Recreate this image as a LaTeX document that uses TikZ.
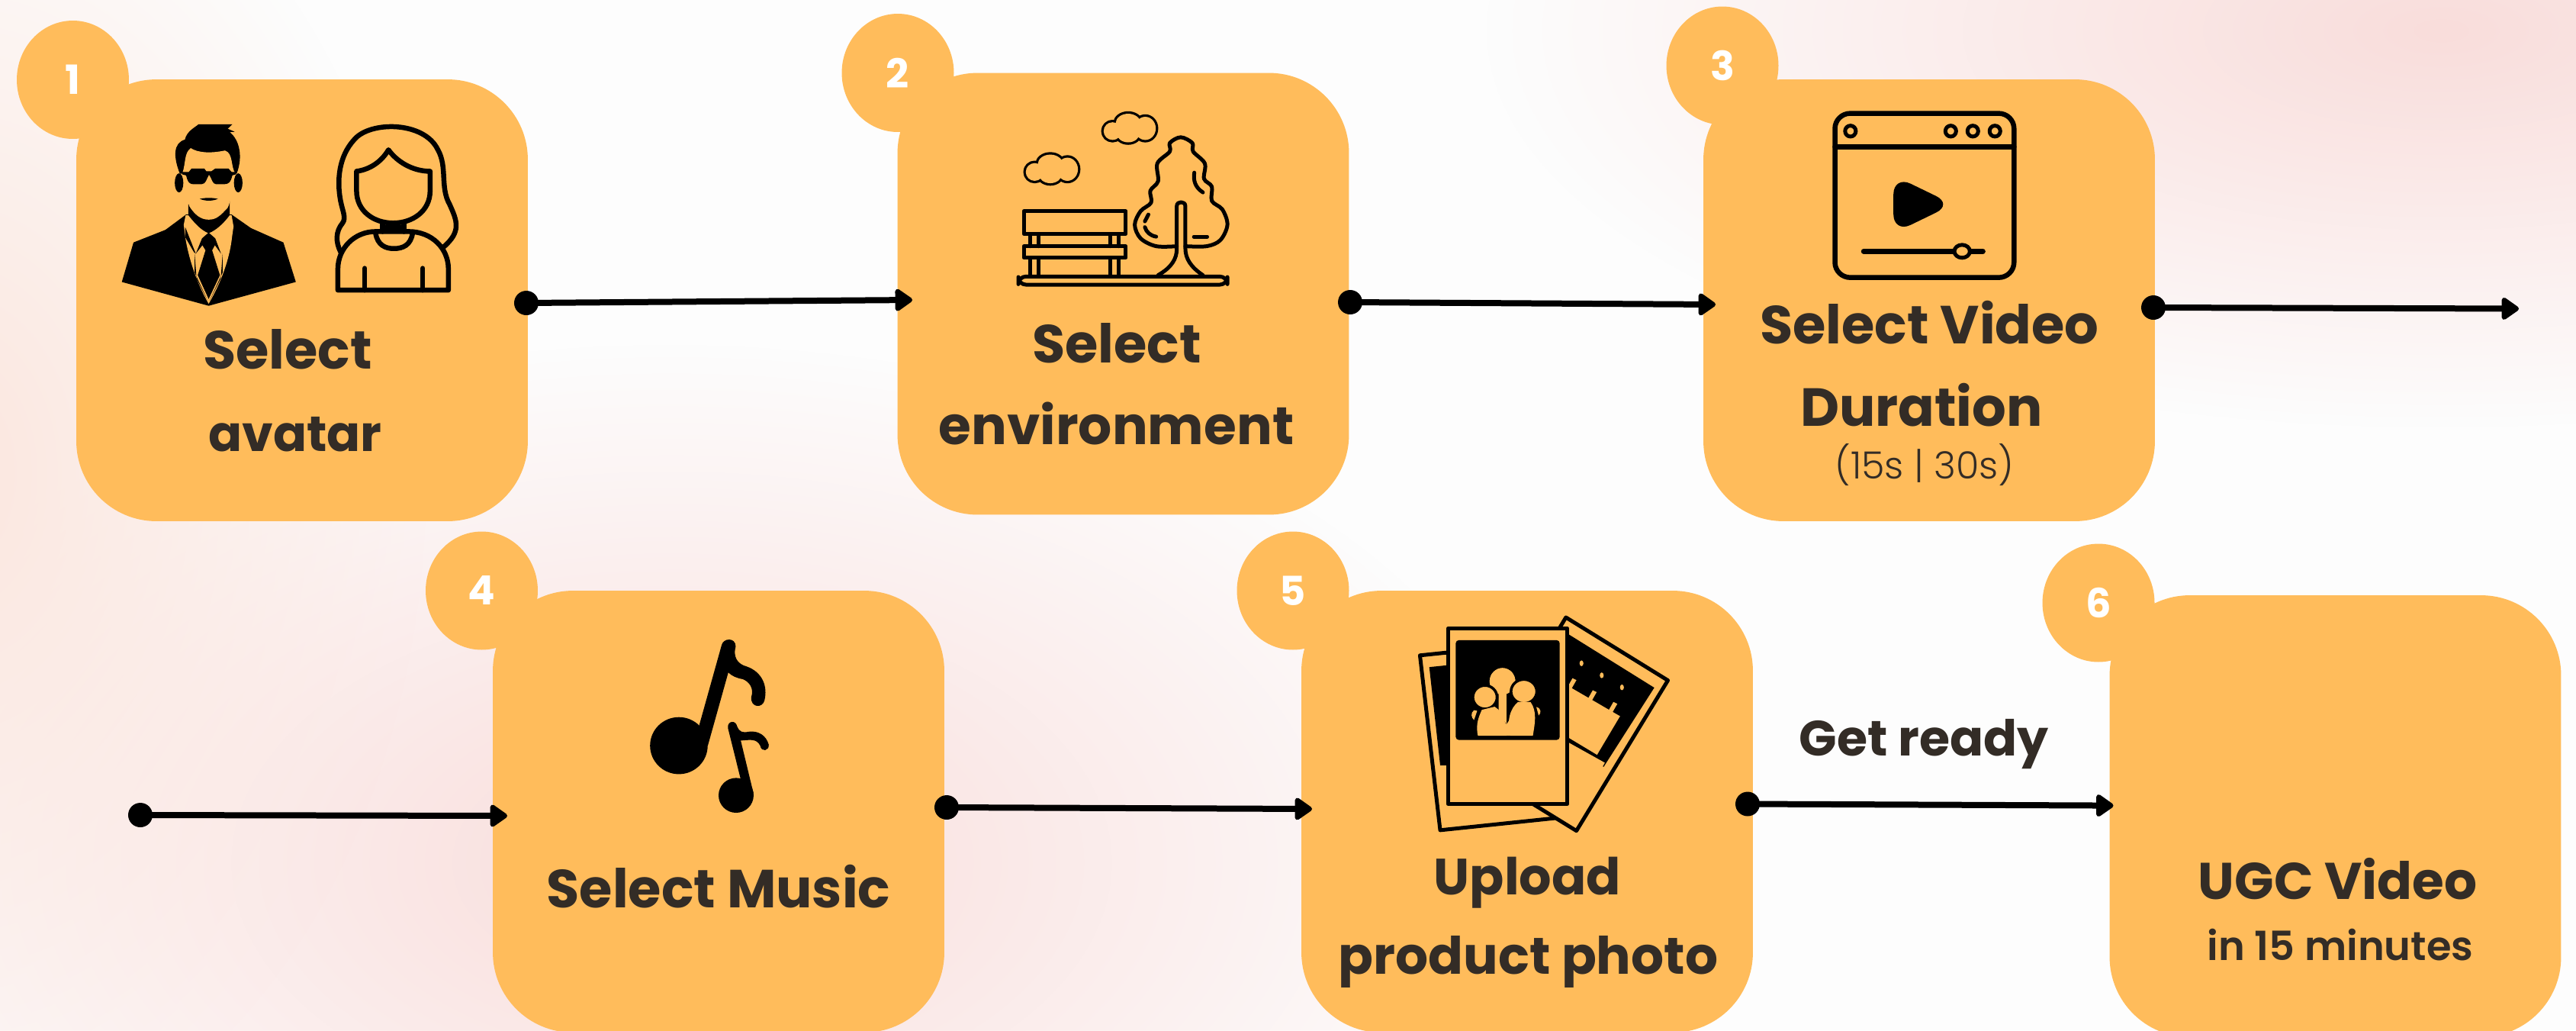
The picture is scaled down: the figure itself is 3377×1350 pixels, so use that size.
\documentclass[tikz,border=0pt]{standalone}
\usepackage{fontspec}
\setmainfont{Poppins}
\newfontfamily\semif{Poppins SemiBold}
\newfontfamily\lightf{Poppins Light}
\usetikzlibrary{shapes.geometric,arrows.meta,fadings}
\definecolor{boxor}{HTML}{FFBC5B}
\definecolor{inkt}{HTML}{332C26}
\definecolor{bgw}{HTML}{FDFDFD}
\definecolor{pinka}{HTML}{F9DDDB}
\definecolor{peach}{HTML}{FBE6DE}
\tikzfading[name=softblob, inner color=transparent!0, outer color=transparent!100]
\tikzset{
  card/.style={fill=boxor,draw=none,rounded corners=2.1cm,minimum width=11.84cm,minimum height=11.58cm,inner sep=0pt},
  badge/.style={ellipse,fill=boxor,draw=none,minimum width=2.94cm,minimum height=3.1cm,inner sep=0pt,text=white,font=\bfseries\fontsize{30}{30}\selectfont},
  title/.style={anchor=base,text=inkt,inner sep=0pt,font=\bfseries\fontsize{#1}{#1}\selectfont},
  dotnode/.style={circle,fill=black,minimum size=.64cm,inner sep=0pt},
  conn/.style={draw=black,line width=.16cm,-{Triangle[length=.5cm,width=.66cm,round]}},
  ic/.style={draw=black,line width=.13cm,line join=round,line cap=round},
  icthin/.style={draw=black,line width=.1cm,line join=round,line cap=round},
  blob/.style={path fading=softblob},
}
\begin{document}
\begin{tikzpicture}[x=.02cm,y=-.02cm]
\useasboundingbox (0,0) rectangle (3377,1350);
% background
\fill[bgw] (0,0) rectangle (3377,1350);
\fill[pinka,blob] (3200,40) ellipse [x radius=1250,y radius=520];
\fill[pinka,blob] (880,1130) ellipse [x radius=1150,y radius=680];
\fill[peach,blob] (-60,620) ellipse [x radius=620,y radius=900];
% cards
\node[card] (b1) at (396,393.5) {};
\node[card] (b2) at (1472.5,385) {};
\node[card] (b3) at (2529,393.5) {};
\node[card] (b4) at (942,1063.5) {};
\node[card] (b5) at (2002,1063.5) {};
\node[card] (b6) at (3061.5,1069.5) {};
\node[badge] (n1) at (95.5,104.5) {1};
\node[badge] (n2) at (1177,95.5) {2};
\node[badge] (n3) at (2258,86) {3};
\node[badge] (n4) at (631.5,774) {4};
\node[badge] (n5) at (1695,774) {5};
\node[badge] (n6) at (2751,790) {6};
% connectors
\node[dotnode] (d1) at (690,397) {};
\coordinate (e1) at (1196,393);
\node[dotnode] (d2) at (1770,396) {};
\coordinate (e2) at (2249,399);
\node[dotnode] (d3) at (2823,403) {};
\coordinate (e3) at (3302,404.5);
\node[dotnode] (d4) at (184,1068) {};
\coordinate (e4) at (665,1069);
\node[dotnode] (d5) at (1241,1058) {};
\coordinate (e5) at (1720,1060);
\node[dotnode] (d6) at (2291,1053.5) {};
\coordinate (e6) at (2770.5,1055.6);
\draw[conn] (d1.center) -- (e1);
\draw[conn] (d2.center) -- (e2);
\draw[conn] (d3.center) -- (e3);
\draw[conn] (d4.center) -- (e4);
\draw[conn] (d5.center) -- (e5);
\draw[conn] (d6.center) -- (e6);
% texts
\node[title=40] (t1a) at (377,483.5) {Select};
\node[title=37] (t1b) at (387,591.5) {avatar};
\node[title=40] (t2a) at (1464,475.5) {Select};
\node[title=39.5] (t2b) at (1463.5,582.6) {environment};
\node[title=40] (t3a) at (2529.5,450) {Select Video};
\node[title=40] (t3b) at (2519,558) {Duration};
\node[title=28,font=\lightf\fontsize{28}{32}\selectfont] (t3c) at (2523,627) {(15s | 30s)};
\node[title=40] (t4a) at (942,1189) {Select Music};
\node[title=38] (t5a) at (2002.5,1172) {Upload};
\node[title=38.5] (t5b) at (2003.5,1276) {product photo};
\node[title=38.5] (t6a) at (3064.5,1178) {UGC Video};
\node[title=30,font=\semif\fontsize{30}{34}\selectfont] (t6b) at (3068,1258) {in 15 minutes};
\node[title=37] (t7) at (2522,990) {Get ready};
% icon 1
\begin{scope}[x=.010204cm,y=-.008929cm]
\fill[black] (313,828) -- (343,712) -- (425,675) -- (478,630) -- (595,630) -- (645,670) -- (728,712) -- (760,828) -- (536,898) -- cycle;
\fill[boxor] (477,632) -- (472,660) -- (476,697) .. controls (485,760) and (505,830) .. (536,892) .. controls (568,830) and (590,760) .. (596,697) -- (600,665) -- (595,632) -- cycle;
\fill[black] (476,667) -- (503,745) -- (498,740) -- (476,697) -- cycle;
\fill[black] (500,745) -- (505,818) -- (534,884) -- (500,800) -- cycle;
\fill[black] (572,745) -- (567,818) -- (538,884) -- (572,800) -- cycle;
\fill[black] (536,683) -- (553,700) -- (568,745) -- (552,720) -- (545,735) -- (565,808) -- (536,878) -- (508,808) -- (528,735) -- (520,720) -- (503,745) -- (519,700) -- cycle;
\fill[black] (484,600) -- (484,632) .. controls (500,655) and (515,675) .. (536,685) .. controls (557,675) and (575,655) .. (590,632) -- (590,590) -- cycle;
\fill[black] (460,537) ellipse [x radius=11,y radius=28];
\fill[black] (612,537) ellipse [x radius=11,y radius=28];
\fill[black] (462,510) .. controls (445,460) and (445,420) .. (475,410) .. controls (480,385) and (500,375) .. (510,365) -- (597,365) -- (585,378) -- (603,387) -- (590,388) .. controls (615,410) and (625,460) .. (608,510) -- cycle;
\fill[boxor] (468,510) .. controls (478,480) and (472,450) .. (490,435) .. controls (510,450) and (545,450) .. (578,442) .. controls (600,450) and (592,490) .. (605,510) .. controls (592,550) and (595,590) .. (585,610) .. controls (565,635) and (555,645) .. (536,645) .. controls (515,645) and (500,630) .. (486,605) .. controls (478,570) and (476,540) .. (468,510) -- cycle;
\fill[black] (468,505) -- (485,505) -- (492,495) -- (525,495) -- (530,503) -- (543,503) -- (553,495) -- (587,495) -- (595,505) -- (606,505) -- (606,512) -- (597,515) .. controls (592,535) and (590,540) .. (575,541) -- (555,541) .. controls (545,540) and (545,525) .. (537,513) .. controls (530,525) and (530,540) .. (518,541) -- (497,541) .. controls (483,540) and (482,530) .. (478,515) -- (468,512) -- cycle;
\fill[black] (513,584) .. controls (530,580) and (545,580) .. (560,584) .. controls (545,591) and (528,591) .. (513,584) -- cycle;
\draw[ic] (875,740) .. controls (862,710) and (862,680) .. (880,655) .. controls (890,640) and (880,620) .. (875,590) .. controls (865,530) and (870,460) .. (910,410) .. controls (950,355) and (1090,355) .. (1125,440) .. controls (1150,490) and (1130,550) .. (1155,600) .. controls (1175,650) and (1185,680) .. (1140,725);
\draw[ic] (916,503) .. controls (950,498) and (980,475) .. (998,440) .. controls (1020,475) and (1060,503) .. (1105,503) -- (1105,560) .. controls (1105,620) and (1060,655) .. (1010,655) .. controls (960,655) and (916,620) .. (916,560) -- cycle;
\draw[ic] (983,655) -- (983,680) (1038,655) -- (1038,680) (983,668) -- (1038,668);
\draw[ic] (868,852) -- (868,790) .. controls (868,730) and (910,680) .. (965,680) -- (1050,680) .. controls (1110,680) and (1152,730) .. (1152,790) -- (1152,852) -- cycle;
\draw[ic] (965,685) .. controls (970,720) and (990,730) .. (1012,730) .. controls (1035,730) and (1055,720) .. (1060,685);
\draw[ic] (937,788) -- (937,852) (1086,788) -- (1086,852);
\end{scope}
% icon 2
\begin{scope}[xshift=22cm,x=.010204cm,y=-.008929cm]
\foreach \sx/\sy in {0/0,200/-120}{
\begin{scope}[xshift=\sx*.010204cm,yshift=-\sy*.008929cm]
\foreach \cx/\cy/\rx/\ry in {503/505/23/26,543/482/32/28,543/510/30/28,587/497/27/34}{\draw[ic] (\cx,\cy) ellipse [x radius=\rx,y radius=\ry];}
\foreach \cx/\cy/\rx/\ry in {503/505/23/26,543/482/32/28,543/510/30/28,587/497/27/34}{\fill[boxor] (\cx,\cy) ellipse [x radius=\rx,y radius=\ry];}
\end{scope}}
\draw[icthin] (475,620) rectangle (737,687);
\draw[icthin] (475,723) rectangle (737,757);
\foreach \lx in {492,513,697,718}{\draw[icthin] (\lx,687) -- (\lx,723) (\lx,757) -- (\lx,812);}
\draw[icthin,rounded corners=.2cm] (461,812) rectangle (998,836);
\draw[icthin] plot[smooth,tension=.55] coordinates {(868,723) (815,723) (775,700) (760,660) (775,620) (802,595) (800,560) (820,532) (818,480) (850,445) (850,420) (878,403) (908,420) (910,445) (940,480) (938,525) (958,548) (958,590) (985,615) (998,660) (980,705) (945,723) (890,723)};
\draw[icthin] (820,808) .. controls (855,785) and (868,760) .. (868,730) -- (868,605) .. controls (868,590) and (890,590) .. (890,605) -- (890,730) .. controls (890,760) and (905,785) .. (935,808);
\draw[icthin] (913,507) .. controls (910,530) and (915,550) .. (935,565);
\draw[icthin] (795,630) -- (786,650);
\draw[icthin] (786,667) .. controls (790,682) and (800,692) .. (815,695);
\draw[icthin] (912,695) -- (946,695);
\end{scope}
% icon 3
\begin{scope}[xshift=43cm,x=.015649cm,y=-.008929cm]
\draw[ic,rounded corners=.4cm] (327,333) rectangle (627,815);
\draw[ic] (327,431) -- (627,431);
\foreach \dx in {353,521,558,595}{\draw[icthin] (\dx,385) ellipse [x radius=9,y radius=16];}
\fill[black,rounded corners=.5cm] (425,515) -- (425,685) -- (525,600) -- cycle;
\draw[ic] (375,738) -- (575,738);
\draw[icthin,fill=boxor] (540,738) ellipse [x radius=13,y radius=19];
\end{scope}
% icon 4
\begin{scope}[xshift=10.8cm,yshift=-14cm,x=.010204cm,y=-.0082988cm]
\fill[black] (686,668) ellipse [x radius=74,y radius=90];
\fill[black] (738,605) -- (796,350) .. controls (800,328) and (832,325) .. (832,355) .. controls (825,385) and (835,410) .. (860,418) .. controls (900,435) and (915,480) .. (906,525) .. controls (902,550) and (870,550) .. (872,515) .. controls (880,485) and (865,465) .. (850,458) .. controls (835,455) and (822,448) .. (813,437) -- (760,670) -- cycle;
\fill[black] (833,825) ellipse [x radius=45,y radius=55];
\fill[black] (845,775) -- (812,612) .. controls (810,590) and (832,585) .. (836,608) .. controls (842,625) and (850,628) .. (865,624) .. controls (890,620) and (910,635) .. (917,665) .. controls (918,685) and (898,690) .. (895,668) .. controls (885,645) and (870,650) .. (845,652) -- (878,820) -- cycle;
\end{scope}
% icon 5
\begin{scope}[xshift=32cm,yshift=-14cm,x=.010204cm,y=-.0082988cm]
\draw[icthin,fill=boxor] (513,383) -- (565,935) -- (860,897) -- (810,345) -- cycle;
\fill[black] (537,420) -- (600,412) -- (600,730) -- (565,730) -- cycle;
\draw[icthin,fill=boxor] (888,263) -- (1150,462) -- (915,937) -- (655,740) -- cycle;
\fill[black] (880,305) -- (1115,485) -- (985,735) -- (880,655) -- cycle;
\fill[boxor] (880,470) -- (1027,575) -- (968,697) -- (880,632) -- cycle;
\fill[boxor] (880,648) -- (988,722) -- (982,735) -- (880,664) -- cycle;
\foreach \ax/\ay in {905/455,957/493,1010/530}{\fill[boxor] (\ax,\ay) -- (\ax+10,\ay+6) -- (\ax-2,\ay+32) -- (\ax-12,\ay+26) -- cycle;}
\foreach \ax/\ay in {928/408,980/446,1032/484}{\fill[boxor] (\ax,\ay) ellipse [x radius=5,y radius=9];}
\draw[icthin,fill=boxor] (585,298) rectangle (892,852);
\fill[black,rounded corners=.08cm] (605,335) rectangle (872,650);
\fill[boxor] (725,465) ellipse [x radius=33,y radius=42];
\fill[boxor] (695,480) rectangle (760,637);
\fill[black] (700,560) -- (735,600) -- (770,540) -- (770,480) -- (700,480) -- cycle;
\fill[boxor] (725,465) ellipse [x radius=33,y radius=42];
\fill[boxor] (715,490) -- (735,490) -- (735,600) -- (715,560) -- cycle;
\draw[line width=.07cm,draw=black,fill=boxor] (680,515) ellipse [x radius=31,y radius=37];
\draw[line width=.07cm,draw=black,fill=boxor] (780,497) ellipse [x radius=33,y radius=38];
\fill[boxor] (662,637) .. controls (655,600) and (665,575) .. (672,555) -- (705,545) .. controls (730,565) and (735,600) .. (735,637) -- cycle;
\fill[boxor] (745,637) .. controls (735,590) and (745,550) .. (765,530) -- (797,530) .. controls (815,560) and (808,600) .. (803,637) -- cycle;
\fill[boxor] (652,556) .. controls (642,565) and (645,580) .. (652,587) -- (660,558) -- cycle;
\fill[boxor] (812,546) .. controls (825,550) and (825,565) .. (818,573) -- cycle;
\end{scope}
\end{tikzpicture}
\end{document}
